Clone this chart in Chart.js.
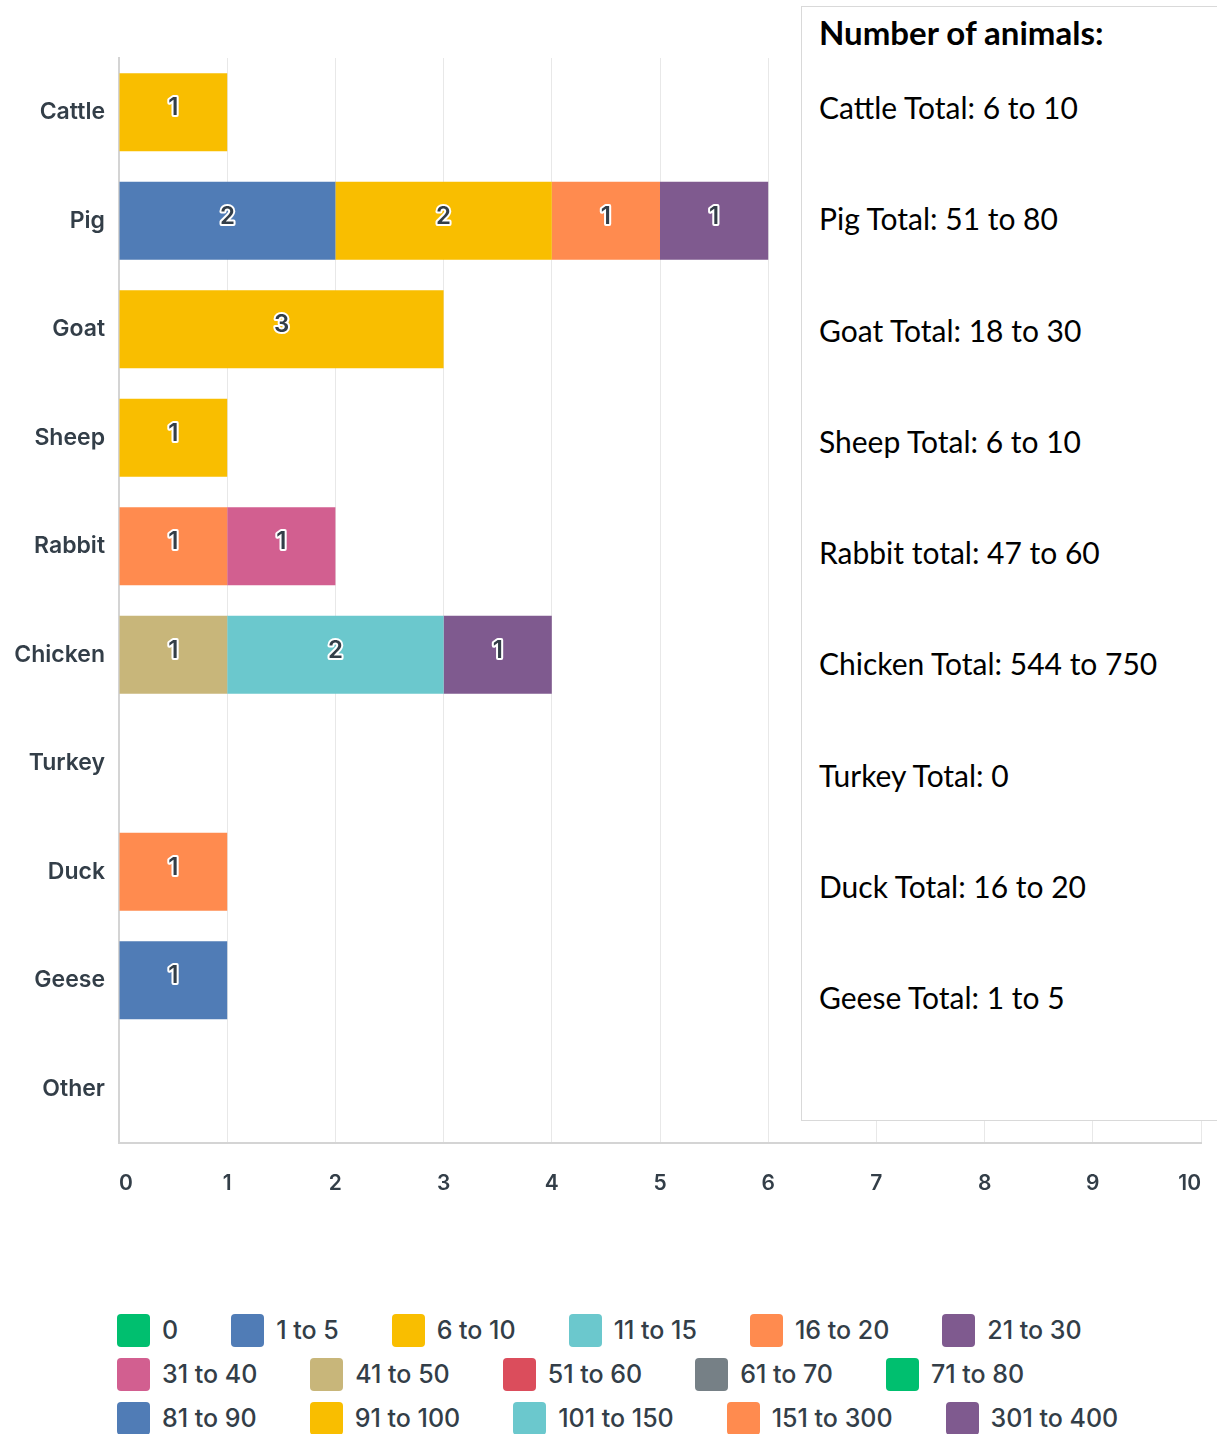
<!DOCTYPE html>
<html>
<head>
<meta charset="utf-8">
<title>Number of animals</title>
<script src="https://cdn.jsdelivr.net/npm/chart.js@4.4.1/dist/chart.umd.min.js"></script>
<style>
  html, body { margin: 0; padding: 0; background: #fff; }
  body { width: 1217px; height: 1434px; position: relative; overflow: hidden; }
  #wrap { position: absolute; left: 0; top: 0; width: 1217px; height: 1260px; }
  #totals {
    position: absolute; left: 801px; top: 6px; width: 440px; height: 1115px;
    box-sizing: border-box; border: 1px solid #d9d9d9; background: #fff;
    font-family: Lato, "Open Sans", sans-serif; color: #000; padding-left: 17px;
  }
  #totals h3 { margin: 0; font-size: 33px; font-weight: 700; line-height: 40px; padding-top: 5px; }
  #totals div { font-size: 30px; line-height: 111.3px; height: 111.3px; }
  #totals .list { margin-top: 0px; }
  #legend {
    position: absolute; left: 117px; top: 1313px; width: 1060px;
    display: flex; flex-wrap: wrap; column-gap: 53px; row-gap: 10px;
    font-family: Inter, sans-serif; font-weight: 500; font-size: 25px; color: #333e48;
  }
  .item { display: flex; align-items: center; height: 34px; }
  .swatch { width: 33px; height: 33px; border-radius: 4px; margin-right: 12px; }
</style>
</head>
<body>
<div id="wrap"><canvas id="chart"></canvas></div>
<div id="totals"><h3>Number of animals:</h3><div class="list" id="totalList"></div></div>
<div id="legend"></div>
<script>
const animals = ["Cattle", "Pig", "Goat", "Sheep", "Rabbit", "Chicken", "Turkey", "Duck", "Geese", "Other"];
const ranges = ["0", "1 to 5", "6 to 10", "11 to 15", "16 to 20", "21 to 30", "31 to 40", "41 to 50",
  "51 to 60", "61 to 70", "71 to 80", "81 to 90", "91 to 100", "101 to 150", "151 to 300", "301 to 400"];
const rangeColors = ["#00bf6f", "#507cb6", "#f9be00", "#6bc8cd", "#ff8b4f", "#7f5a8f", "#d25f90", "#c8b67a",
  "#db4d5c", "#768086", "#00bf6f", "#507cb6", "#f9be00", "#6bc8cd", "#ff8b4f", "#7f5a8f"];

// number of respondents per range, one value per animal
const r0 = [];
const r1to5 = [null, 2, null, null, null, null, null, null, 1, null];
const r6to10 = [1, 2, 3, 1, null, null, null, null, null, null];
const r11to15 = [];
const r16to20 = [null, 1, null, null, 1, null, null, 1, null, null];
const r21to30 = [null, 1, null, null, null, null, null, null, null, null];
const r31to40 = [null, null, null, null, 1, null, null, null, null, null];
const r41to50 = [null, null, null, null, null, 1, null, null, null, null];
const r51to60 = [];
const r61to70 = [];
const r71to80 = [];
const r81to90 = [];
const r91to100 = [];
const r101to150 = [null, null, null, null, null, 2, null, null, null, null];
const r151to300 = [];
const r301to400 = [null, null, null, null, null, 1, null, null, null, null];
const rangeValues = [r0, r1to5, r6to10, r11to15, r16to20, r21to30, r31to40, r41to50,
  r51to60, r61to70, r71to80, r81to90, r91to100, r101to150, r151to300, r301to400];

const totals = ["Cattle Total: 6 to 10", "Pig Total: 51 to 80", "Goat Total: 18 to 30", "Sheep Total: 6 to 10",
  "Rabbit total: 47 to 60", "Chicken Total: 544 to 750", "Turkey Total: 0", "Duck Total: 16 to 20",
  "Geese Total: 1 to 5"];
const xTicks = [0, 1, 2, 3, 4, 5, 6, 7, 8, 9, 10];

const textColor = "#333e48";
const ctx = document.getElementById("chart");

const segmentLabels = {
  id: "segmentLabels",
  afterDatasetsDraw(chart) {
    const c = chart.ctx;
    c.save();
    c.font = "600 24px Inter";
    c.textAlign = "center";
    c.textBaseline = "middle";
    c.lineJoin = "round";
    c.lineWidth = 4;
    c.strokeStyle = "#fff";
    c.fillStyle = textColor;
    chart.data.datasets.forEach((ds, i) => {
      chart.getDatasetMeta(i).data.forEach((bar, j) => {
        const v = ds.data[j];
        if (!v) return;
        const p = bar.getProps(["x", "y", "base"], true);
        const cx = (p.x + p.base) / 2;
        c.strokeText(v, cx, p.y - 4);
        c.fillText(v, cx, p.y - 4);
      });
    });
    c.restore();
  }
};

const chart = new Chart(ctx, {
  type: "bar",
  data: {
    labels: animals,
    datasets: ranges.map((r, i) => ({
      label: r,
      data: rangeValues[i],
      backgroundColor: rangeColors[i],
      borderWidth: 0,
      barPercentage: 0.72,
      categoryPercentage: 1,
    })),
  },
  options: {
    indexAxis: "y",
    responsive: true,
    maintainAspectRatio: false,
    animation: false,
    layout: { padding: { top: 58, right: 16, left: 0, bottom: 0 } },
    plugins: {
      legend: { display: false },
      tooltip: { enabled: false },
    },
    scales: {
      x: {
        stacked: true,
        min: 0,
        max: 10,
        afterBuildTicks: (scale) => { scale.ticks = xTicks.map((v) => ({ value: v })); },
        afterFit: (scale) => { scale.height = 117; },
        grid: { color: "#e8e8e8", drawTicks: true, tickLength: 24, tickColor: "rgba(0,0,0,0)", lineWidth: 1 },
        border: { display: true, color: "#d4d4d4", width: 2 },
        ticks: {
          align: "inner",
          padding: 4,
          color: textColor,
          font: { family: "Inter", size: 21, weight: 600 },
        },
      },
      y: {
        stacked: true,
        afterFit: (scale) => { scale.width = 119; },
        grid: { display: false, drawTicks: false },
        border: { display: true, color: "#d4d4d4", width: 2 },
        ticks: {
          padding: 14,
          color: textColor,
          font: { family: "Inter", size: 23, weight: 600 },
        },
      },
    },
  },
  plugins: [segmentLabels],
});

// legend built from the chart's own legend items
const legendBox = document.getElementById("legend");
Chart.defaults.plugins.legend.labels.generateLabels(chart).forEach((item) => {
  const el = document.createElement("div");
  el.className = "item";
  const sw = document.createElement("span");
  sw.className = "swatch";
  sw.style.background = item.fillStyle;
  el.appendChild(sw);
  el.appendChild(document.createTextNode(item.text));
  legendBox.appendChild(el);
});

const totalList = document.getElementById("totalList");
totals.forEach((t) => {
  const d = document.createElement("div");
  d.textContent = t;
  totalList.appendChild(d);
});
</script>
</body>
</html>
